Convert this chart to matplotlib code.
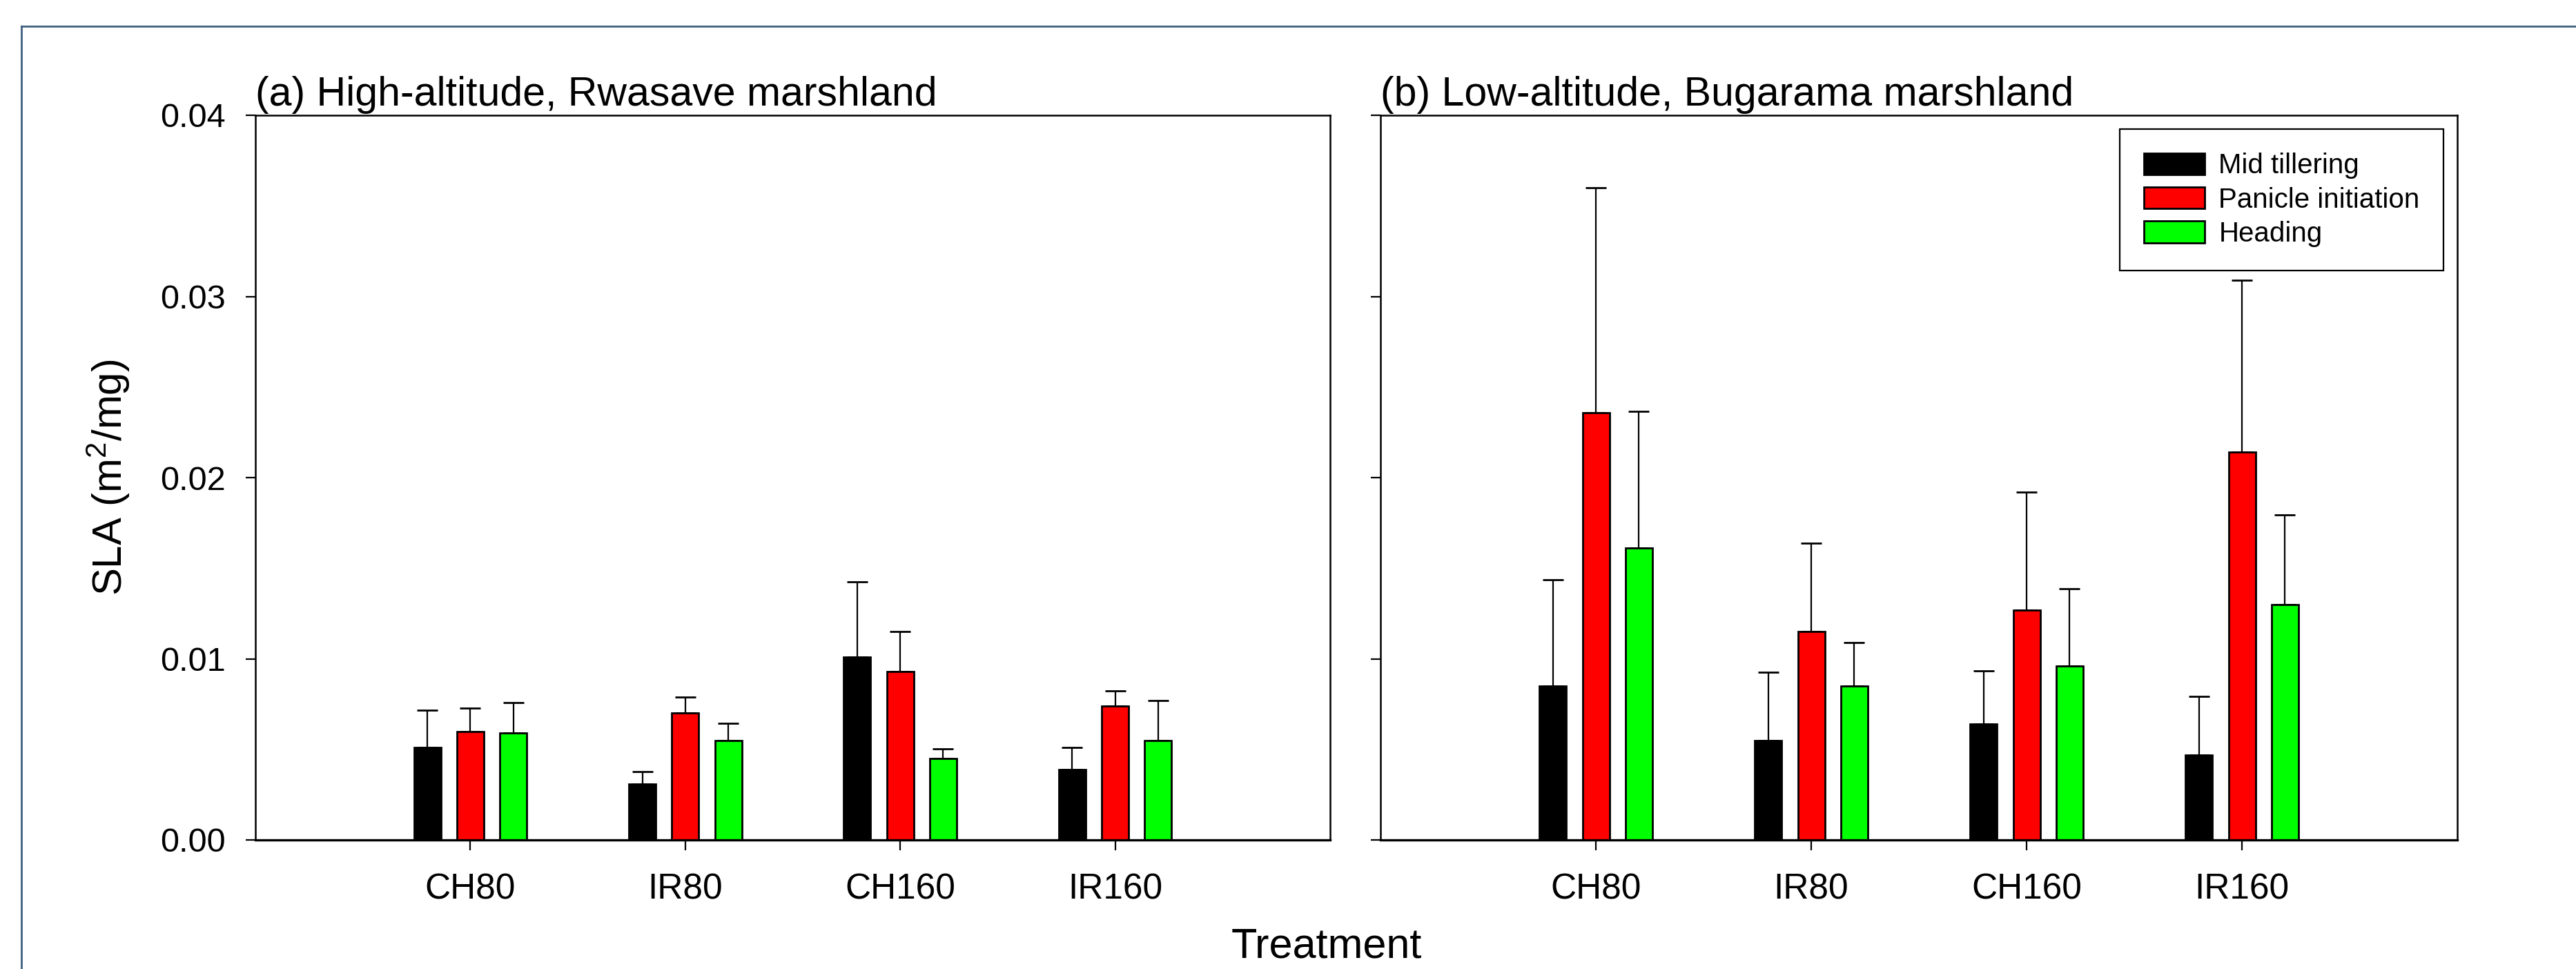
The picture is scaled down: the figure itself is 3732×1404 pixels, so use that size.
import numpy as np
import matplotlib
matplotlib.use("Agg")
import matplotlib.pyplot as plt
from matplotlib.lines import Line2D

plt.rcParams['font.family'] = ['Liberation Sans', 'DejaVu Sans']
plt.rcParams['mathtext.fontset'] = 'custom'
plt.rcParams['mathtext.rm'] = 'Liberation Sans'
plt.rcParams['mathtext.it'] = 'Liberation Sans:italic'

# ---------------- data ----------------
treatments = ['CH80', 'IR80', 'CH160', 'IR160']
stages = ['Mid tillering', 'Panicle initiation', 'Heading']
colors = ['#000000', '#ff0000', '#00ff00']

# (a) High-altitude, Rwasave marshland
high_mid = [0.0051, 0.0031, 0.0101, 0.0039]
high_mid_err = [0.00205, 0.00068, 0.00414, 0.0012]
high_pi = [0.0060, 0.0070, 0.0093, 0.0074]
high_pi_err = [0.00127, 0.00088, 0.00222, 0.00082]
high_hd = [0.0059, 0.0055, 0.0045, 0.0055]
high_hd_err = [0.00168, 0.00092, 0.00052, 0.00219]

# (b) Low-altitude, Bugarama marshland
low_mid = [0.0085, 0.0055, 0.0064, 0.0047]
low_mid_err = [0.00587, 0.00374, 0.00292, 0.00321]
low_pi = [0.0236, 0.0115, 0.0127, 0.0214]
low_pi_err = [0.0124, 0.00489, 0.0065, 0.0095]
low_hd = [0.0161, 0.0085, 0.0096, 0.0130]
low_hd_err = [0.00755, 0.00241, 0.00428, 0.00495]

yticks = [0.00, 0.01, 0.02, 0.03, 0.04]
ytick_labels = ['0.00', '0.01', '0.02', '0.03', '0.04']

titles = ['(a) High-altitude, Rwasave marshland', '(b) Low-altitude, Bugarama marshland']

# ---------------- layout ----------------
W, H = 3732, 1404
fig = plt.figure(figsize=(W / 100, H / 100), dpi=100)
ax1 = fig.add_axes([370 / W, 1 - 1217 / H, 1557 / W, 1050 / H])
ax2 = fig.add_axes([2000 / W, 1 - 1217 / H, 1560 / W, 1050 / H])

panels = [
    (ax1, [high_mid, high_pi, high_hd], [high_mid_err, high_pi_err, high_hd_err]),
    (ax2, [low_mid, low_pi, low_hd], [low_mid_err, low_pi_err, low_hd_err]),
]

x = np.arange(1, len(treatments) + 1)
offsets = [-0.2, 0.0, 0.2]
bw = 0.125

for i, (ax, vals, errs) in enumerate(panels):
    for j in range(3):
        v = np.array(vals[j])
        e = np.array(errs[j])
        ax.errorbar(x + offsets[j], v, yerr=[np.zeros_like(e), e], fmt='none',
                    ecolor='black', elinewidth=1.6, capsize=11, capthick=2.0, zorder=1.5)
        ax.bar(x + offsets[j], v, width=bw, color=colors[j], edgecolor='black',
               linewidth=2.0, label=stages[j], zorder=2)
    ax.set_xlim(0, 5)
    ax.set_ylim(0, 0.04)
    ax.set_xticks(x)
    ax.set_xticklabels(treatments, fontsize=37)
    ax.set_yticks(yticks)
    if i == 0:
        ax.set_yticklabels(ytick_labels, fontsize=35)
    else:
        ax.set_yticklabels([])
    ax.tick_params(axis='x', direction='out', length=11, width=1.6, pad=23)
    ax.tick_params(axis='y', direction='out', length=10, width=1.6, pad=21)
    for s in ax.spines.values():
        s.set_linewidth(1.8)
        s.set_color('black')
    ax.spines['bottom'].set_linewidth(2.4)
    ax.set_title(titles[i], loc='left', fontsize=42.5, pad=10)

leg = ax2.legend(loc='upper right', fontsize=29, frameon=True, fancybox=False,
                 edgecolor='black', framealpha=1, borderaxespad=0.5,
                 handlelength=2.2, handleheight=0.82, handletextpad=0.5,
                 labelspacing=0.28, borderpad=0.85)
leg.get_frame().set_linewidth(1.6)

fig.text(157 / W, 1 - 692 / H, r'SLA (m$^\mathregular{2}$/mg)', rotation=90,
         ha='center', va='center', fontsize=43)
fig.text(1922 / W, 3 / H, 'Treatment', ha='center', va='bottom', fontsize=44)

# outer frame (partially visible border)
border = '#3f5f7f'
fig.add_artist(Line2D([31 / W, 31 / W], [0, 1 - 38 / H], transform=fig.transFigure,
                      color=border, lw=2))
fig.add_artist(Line2D([31 / W, 1], [1 - 38 / H, 1 - 38 / H], transform=fig.transFigure,
                      color=border, lw=2))

fig.savefig('out.png', dpi=100)
